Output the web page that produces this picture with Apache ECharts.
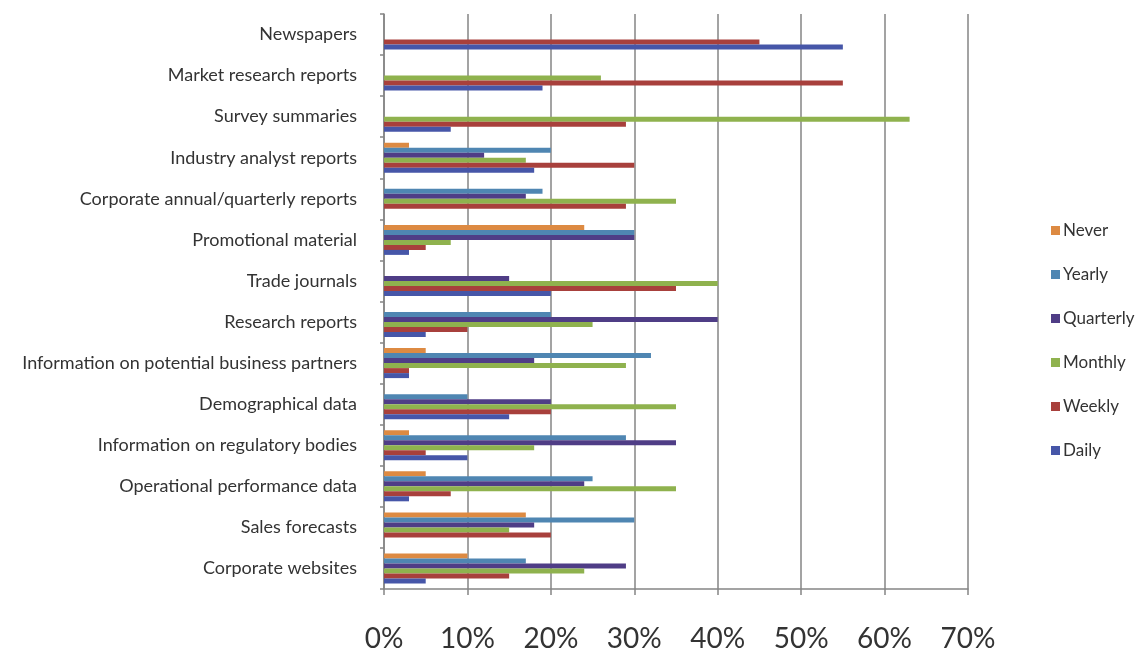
<!DOCTYPE html>
<html>
<head>
<meta charset="utf-8">
<title>Information sources by frequency of use</title>
<script src="https://cdn.jsdelivr.net/npm/echarts@6/dist/echarts.min.js"></script>
<style>
  html, body { margin: 0; padding: 0; background: #ffffff; }
  #chart { width: 1143px; height: 657px; }
</style>
</head>
<body>
<div id="chart"></div>
<script>
// Categories listed from the bottom of the axis to the top
const categories = [
  'Corporate websites',
  'Sales forecasts',
  'Operational performance data',
  'Information on regulatory bodies',
  'Demographical data',
  'Information on potential business partners',
  'Research reports',
  'Trade journals',
  'Promotional material',
  'Corporate annual/quarterly reports',
  'Industry analyst reports',
  'Survey summaries',
  'Market research reports',
  'Newspapers'
];

// Share of respondents (%) per frequency, in category order
const daily     = [5, 0, 3, 10, 15, 3, 5, 20, 3, 0, 18, 8, 19, 55];
const weekly    = [15, 20, 8, 5, 20, 3, 10, 35, 5, 29, 30, 29, 55, 45];
const monthly   = [24, 15, 35, 18, 35, 29, 25, 40, 8, 35, 17, 63, 26, 0];
const quarterly = [29, 18, 24, 35, 20, 18, 40, 15, 30, 17, 12, 0, 0, 0];
const yearly    = [17, 30, 25, 29, 10, 32, 20, 0, 30, 19, 20, 0, 0, 0];
const never     = [10, 17, 5, 3, 0, 5, 0, 0, 24, 0, 3, 0, 0, 0];

// Series listed top-of-group first (ECharts stacks the first series at the top of each band)
const seriesNames  = ['Never', 'Yearly', 'Quarterly', 'Monthly', 'Weekly', 'Daily'];
const seriesValues = [never, yearly, quarterly, monthly, weekly, daily];
const seriesColors = ['#dd8a42', '#4f86b2', '#4f3d86', '#8fb24e', '#a8403c', '#4656a8'];

const chart = echarts.init(document.getElementById('chart'), null, { renderer: 'canvas' });

const fontFamily = 'Lato, "Open Sans", sans-serif';
const axisGray = '#858585';

chart.setOption({
  animation: false,
  backgroundColor: '#ffffff',
  textStyle: { fontFamily: fontFamily },
  grid: { left: 384, right: 175, top: 14, bottom: 68, containLabel: false },
  legend: {
    orient: 'vertical',
    left: 1046,
    top: 217,
    itemWidth: 9,
    itemHeight: 9,
    itemGap: 27,
    icon: 'rect',
    data: seriesNames,
    textStyle: { fontSize: 17, color: '#333333', fontFamily: fontFamily, padding: [0, 0, 0, -2] }
  },
  xAxis: {
    type: 'value',
    min: 0,
    max: 70,
    interval: 10,
    axisLine: { show: true, lineStyle: { color: axisGray, width: 1.5 } },
    axisTick: { show: true, length: 6, lineStyle: { color: axisGray, width: 1.5 } },
    splitLine: { show: true, lineStyle: { color: axisGray, width: 1.5 } },
    axisLabel: {
      formatter: '{value}%',
      fontSize: 28,
      color: '#333333',
      margin: 36,
      fontFamily: fontFamily
    }
  },
  yAxis: {
    type: 'category',
    data: categories,
    axisLine: { show: true, lineStyle: { color: axisGray, width: 1.5 } },
    axisTick: { show: true, length: 4, alignWithLabel: false, lineStyle: { color: axisGray, width: 1.5 } },
    axisLabel: {
      fontSize: 18,
      color: '#333333',
      margin: 27,
      fontFamily: fontFamily
    }
  },
  series: seriesNames.map((name, i) => ({
    name: name,
    type: 'bar',
    data: seriesValues[i],
    itemStyle: { color: seriesColors[i] },
    barGap: '0%',
    barCategoryGap: '27%'
  }))
});
</script>
</body>
</html>
